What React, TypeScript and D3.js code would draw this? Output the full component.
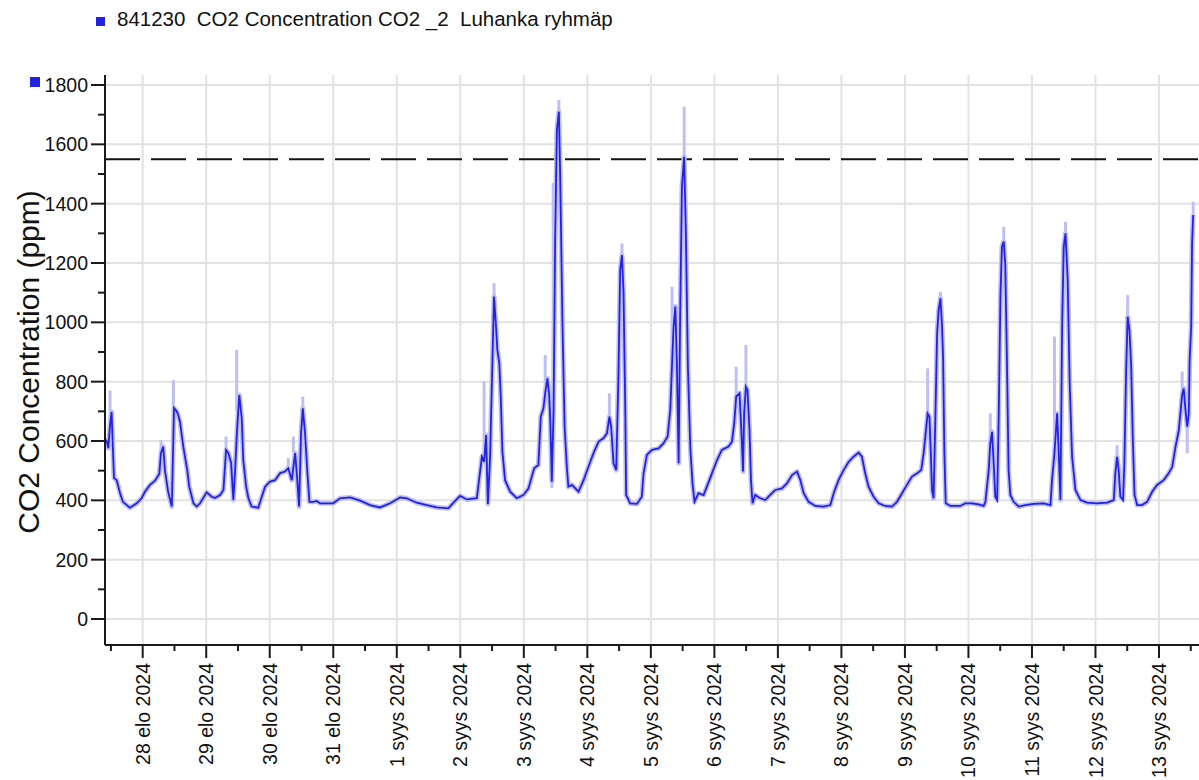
import React, { useEffect, useRef } from 'react'
import * as d3 from 'd3'

const seriesName = '841230  CO2 Concentration CO2 _2  Luhanka ryhmäp'
const yTitle = 'CO2 Concentration (ppm)'
const yTicks = [0, 200, 400, 600, 800, 1000, 1200, 1400, 1600, 1800]
const yMinorTicks = [100, 300, 500, 700, 900, 1100, 1300, 1500, 1700]
const limitLevel = 1550
const monthNames = ['tammi', 'helmi', 'maalis', 'huhti', 'touko', 'kesä', 'heinä', 'elo', 'syys', 'loka', 'marras', 'joulu']

// [time, ppm]
const co2Readings: [string, number][] = [
  ['08-27 09:45', 605], ['08-27 10:25', 600], ['08-27 11:00', 576], ['08-27 11:40', 654], ['08-27 12:15', 698], ['08-27 12:40', 593],
  ['08-27 13:10', 475], ['08-27 14:10', 468], ['08-27 15:25', 425], ['08-27 16:30', 395], ['08-27 19:10', 375], ['08-27 21:45', 390], ['08-27 23:35', 407],
  ['08-28 00:50', 429], ['08-28 02:45', 452], ['08-28 04:40', 466], ['08-28 06:15', 489], ['08-28 06:55', 560], ['08-28 07:45', 581],
  ['08-28 08:25', 500], ['08-28 09:35', 430], ['08-28 11:00', 379], ['08-28 11:50', 711], ['08-28 12:50', 700], ['08-28 13:20', 690],
  ['08-28 14:05', 665], ['08-28 15:20', 581], ['08-28 16:50', 502], ['08-28 17:35', 446], ['08-28 19:10', 390], ['08-28 20:25', 379], ['08-28 21:40', 390],
  ['08-29 00:10', 427], ['08-29 02:05', 412], ['08-29 03:20', 408], ['08-29 05:15', 418], ['08-29 06:30', 435], ['08-29 07:30', 570],
  ['08-29 08:20', 560], ['08-29 09:25', 526], ['08-29 10:15', 401], ['08-29 10:55', 502], ['08-29 11:40', 640], ['08-29 12:30', 755],
  ['08-29 13:25', 677], ['08-29 14:00', 536], ['08-29 15:05', 446], ['08-29 15:55', 408], ['08-29 17:10', 379], ['08-29 19:40', 375],
  ['08-29 21:00', 412], ['08-29 22:15', 446],
  ['08-30 00:05', 463], ['08-30 02:00', 468], ['08-30 03:55', 492], ['08-30 05:45', 497], ['08-30 07:00', 508], ['08-30 08:20', 468],
  ['08-30 09:35', 559], ['08-30 10:15', 488], ['08-30 11:05', 379], ['08-30 11:50', 626], ['08-30 12:30', 710], ['08-30 13:20', 626],
  ['08-30 14:15', 491], ['08-30 15:00', 395], ['08-30 16:30', 395], ['08-30 17:45', 398], ['08-30 19:00', 390], ['08-30 23:55', 390],
  ['08-31 02:35', 407], ['08-31 06:20', 410], ['08-31 10:10', 399], ['08-31 13:55', 384], ['08-31 17:40', 376], ['08-31 21:30', 390],
  ['09-01 01:15', 410], ['09-01 03:45', 407], ['09-01 07:35', 392], ['09-01 11:20', 384], ['09-01 15:10', 376], ['09-01 19:30', 373],
  ['09-01 21:25', 392], ['09-01 23:55', 415],
  ['09-02 02:30', 403], ['09-02 06:15', 407], ['09-02 07:05', 468], ['09-02 08:10', 547], ['09-02 09:00', 530], ['09-02 09:45', 620],
  ['09-02 10:25', 388], ['09-02 11:15', 542], ['09-02 12:10', 879], ['09-02 12:45', 1087], ['09-02 13:25', 997], ['09-02 14:00', 907],
  ['09-02 14:45', 862], ['09-02 15:20', 738], ['09-02 15:55', 564], ['09-02 16:55', 468], ['09-02 18:50', 429], ['09-02 21:20', 407], ['09-02 23:50', 418],
  ['09-03 01:45', 440], ['09-03 03:55', 508], ['09-03 05:30', 519], ['09-03 06:25', 682], ['09-03 07:25', 710], ['09-03 08:05', 761],
  ['09-03 08:55', 811], ['09-03 09:35', 755], ['09-03 10:00', 671], ['09-03 10:35', 463], ['09-03 11:15', 705], ['09-03 11:50', 1278],
  ['09-03 12:30', 1648], ['09-03 13:15', 1710], ['09-03 13:45', 1491], ['09-03 14:35', 1008], ['09-03 15:25', 648], ['09-03 16:15', 513],
  ['09-03 16:50', 446], ['09-03 18:10', 452], ['09-03 20:40', 429], ['09-03 22:35', 468],
  ['09-04 00:25', 513], ['09-04 02:20', 559], ['09-04 04:15', 598], ['09-04 06:05', 609], ['09-04 07:25', 626], ['09-04 08:20', 682],
  ['09-04 09:00', 648], ['09-04 09:55', 525], ['09-04 10:55', 502], ['09-04 11:45', 817], ['09-04 12:25', 1176], ['09-04 13:05', 1227],
  ['09-04 13:40', 1103], ['09-04 14:20', 710], ['09-04 14:40', 418], ['09-04 16:10', 390], ['09-04 18:45', 388], ['09-04 20:35', 412],
  ['09-04 21:15', 491], ['09-04 22:30', 553],
  ['09-05 00:25', 570], ['09-05 02:55', 575], ['09-05 04:45', 592], ['09-05 06:20', 615], ['09-05 07:20', 705], ['09-05 08:00', 856],
  ['09-05 08:35', 985], ['09-05 09:15', 1053], ['09-05 09:50', 862], ['09-05 10:30', 525], ['09-05 11:05', 1031], ['09-05 11:45', 1457],
  ['09-05 12:35', 1558], ['09-05 13:15', 1294], ['09-05 14:00', 850], ['09-05 14:55', 575], ['09-05 15:45', 457], ['09-05 16:30', 395],
  ['09-05 18:00', 424], ['09-05 19:55', 418], ['09-05 21:10', 446], ['09-05 23:05', 491],
  ['09-06 01:00', 536], ['09-06 02:50', 570], ['09-06 05:20', 581], ['09-06 06:40', 598], ['09-06 07:30', 660], ['09-06 08:15', 750],
  ['09-06 09:30', 761], ['09-06 10:10', 643], ['09-06 10:50', 497], ['09-06 11:15', 693], ['09-06 11:55', 783], ['09-06 12:30', 772],
  ['09-06 13:15', 643], ['09-06 13:50', 468], ['09-06 14:25', 390], ['09-06 15:25', 418], ['09-06 17:20', 407], ['09-06 19:15', 401],
  ['09-06 21:05', 418], ['09-06 23:00', 435],
  ['09-07 01:30', 440], ['09-07 03:25', 457], ['09-07 05:20', 485], ['09-07 07:15', 497], ['09-07 08:30', 468], ['09-07 09:45', 424],
  ['09-07 11:35', 395], ['09-07 14:10', 381], ['09-07 17:15', 379], ['09-07 19:50', 384], ['09-07 21:05', 424], ['09-07 22:55', 468],
  ['09-08 00:50', 502], ['09-08 02:45', 530], ['09-08 04:35', 547], ['09-08 06:30', 561], ['09-08 07:45', 547], ['09-08 09:00', 491],
  ['09-08 10:15', 446], ['09-08 12:10', 412], ['09-08 14:05', 390], ['09-08 16:35', 381], ['09-08 19:05', 379], ['09-08 21:00', 395], ['09-08 22:55', 424],
  ['09-09 00:45', 452], ['09-09 02:40', 480], ['09-09 04:35', 491], ['09-09 06:10', 502], ['09-09 07:05', 559], ['09-09 07:50', 626],
  ['09-09 08:35', 693], ['09-09 09:15', 682], ['09-09 09:45', 570], ['09-09 10:15', 435], ['09-09 10:50', 407], ['09-09 11:30', 677],
  ['09-09 12:10', 963], ['09-09 12:45', 1042], ['09-09 13:25', 1081], ['09-09 14:00', 991], ['09-09 14:25', 884], ['09-09 14:55', 559],
  ['09-09 15:25', 390], ['09-09 17:10', 381], ['09-09 20:55', 381], ['09-09 22:50', 390],
  ['09-10 01:20', 390], ['09-10 03:50', 386], ['09-10 05:45', 381], ['09-10 06:25', 395], ['09-10 07:00', 446], ['09-10 07:40', 502],
  ['09-10 08:15', 592], ['09-10 08:55', 631], ['09-10 09:30', 530], ['09-10 10:10', 412], ['09-10 10:50', 401], ['09-10 11:25', 671],
  ['09-10 12:05', 1087], ['09-10 12:40', 1255], ['09-10 13:20', 1272], ['09-10 13:55', 1193], ['09-10 14:35', 850], ['09-10 15:10', 502],
  ['09-10 15:50', 418], ['09-10 17:05', 395], ['09-10 19:00', 379], ['09-10 21:30', 384],
  ['09-11 00:40', 388], ['09-11 04:25', 390], ['09-11 07:00', 384], ['09-11 07:35', 468], ['09-11 08:30', 559], ['09-11 09:30', 693],
  ['09-11 10:05', 570], ['09-11 10:45', 401], ['09-11 11:25', 997], ['09-11 12:00', 1255], ['09-11 12:40', 1300], ['09-11 13:30', 1143],
  ['09-11 14:15', 795], ['09-11 15:10', 547], ['09-11 16:25', 435], ['09-11 18:20', 401], ['09-11 20:50', 392],
  ['09-12 00:35', 390], ['09-12 04:25', 392], ['09-12 06:55', 401], ['09-12 07:30', 491], ['09-12 08:10', 547], ['09-12 08:45', 502],
  ['09-12 09:25', 412], ['09-12 10:25', 401], ['09-12 10:55', 525], ['09-12 11:35', 839], ['09-12 12:10', 1019], ['09-12 12:50', 974],
  ['09-12 13:30', 850], ['09-12 14:05', 615], ['09-12 14:45', 418], ['09-12 15:45', 384], ['09-12 17:35', 384], ['09-12 19:30', 395],
  ['09-12 21:25', 429], ['09-12 23:15', 452],
  ['09-13 01:45', 468], ['09-13 03:40', 491], ['09-13 05:00', 513], ['09-13 06:15', 581], ['09-13 07:30', 637], ['09-13 08:05', 693],
  ['09-13 08:45', 755], ['09-13 09:20', 777], ['09-13 10:00', 705], ['09-13 10:40', 648], ['09-13 11:15', 693], ['09-13 11:35', 873],
  ['09-13 12:10', 985], ['09-13 12:30', 1266], ['09-13 12:55', 1362],
]

// [time, min, max] of the lighter min/max band where it sticks out
const co2Extremes: [string, number, number][] = [
  ['08-27 11:40', 600, 770], ['08-28 06:55', 540, 603], ['08-28 11:35', 700, 805], ['08-29 07:30', 560, 615],
  ['08-29 11:30', 700, 907], ['08-30 07:00', 500, 543], ['08-30 08:55', 560, 615], ['08-30 12:30', 700, 750],
  ['09-02 09:00', 530, 800], ['09-02 12:45', 1080, 1132], ['09-03 08:05', 760, 890], ['09-03 10:35', 441, 470],
  ['09-03 11:05', 700, 1470], ['09-03 13:15', 1700, 1750], ['09-04 08:20', 680, 761], ['09-04 13:05', 1220, 1266],
  ['09-05 08:00', 850, 1120], ['09-05 12:35', 1550, 1727], ['09-06 08:15', 750, 850], ['09-06 11:55', 780, 924],
  ['09-09 08:35', 690, 845], ['09-09 13:25', 1080, 1103], ['09-10 08:15', 590, 693], ['09-10 13:20', 1270, 1322],
  ['09-11 08:30', 560, 952], ['09-11 12:40', 1300, 1339], ['09-12 08:10', 547, 586], ['09-12 12:10', 1019, 1092],
  ['09-13 08:45', 755, 834], ['09-13 10:40', 559, 648], ['09-13 12:55', 1362, 1407],
]

const parseTime = d3.timeParse('%Y-%m-%d %H:%M')
const toDate = (s: string) => parseTime('2024-' + s) as Date
const dayLabel = (d: Date) => `${d.getDate()} ${monthNames[d.getMonth()]} ${d.getFullYear()}`

const font = '"Liberation Sans", Arial, sans-serif'
const blue = '#2222e2'
const lightBlue = '#bfbff3'

function CO2Chart() {
  const chartRef = useRef<SVGSVGElement>(null)

  useEffect(() => {
    const width = 1199
    const height = 780
    const plot = { left: 105, right: 1199, top: 75, bottom: 645 }

    const svg = d3.select(chartRef.current).attr('width', width).attr('height', height)
    svg.selectAll('*').remove()
    svg.append('rect').attr('width', width).attr('height', height).attr('fill', '#fff')

    const x = d3
      .scaleTime()
      .domain([new Date(2024, 7, 28), new Date(2024, 8, 13)])
      .range([142.7, 1159])
    const y = d3.scaleLinear().domain([0, 1800]).range([619, 85])

    const t0 = x.invert(plot.left)
    const t1 = x.invert(plot.right)
    const days = d3.timeDay.range(d3.timeDay.ceil(t0), t1)
    const noons = d3.timeHour.range(t0, t1).filter((d) => d.getHours() === 12)

    // Grid
    svg
      .append('g')
      .selectAll('line')
      .data(yTicks)
      .join('line')
      .attr('x1', plot.left)
      .attr('x2', plot.right)
      .attr('y1', (d) => y(d))
      .attr('y2', (d) => y(d))
      .attr('stroke', '#e2e2e2')
      .attr('stroke-width', 2)
    svg
      .append('g')
      .selectAll('line')
      .data(days)
      .join('line')
      .attr('x1', (d) => x(d))
      .attr('x2', (d) => x(d))
      .attr('y1', plot.top)
      .attr('y2', plot.bottom)
      .attr('stroke', '#e2e2e2')
      .attr('stroke-width', 2)

    // Limit line
    svg
      .append('line')
      .attr('x1', plot.left)
      .attr('x2', plot.right)
      .attr('y1', y(limitLevel))
      .attr('y2', y(limitLevel))
      .attr('stroke', '#111')
      .attr('stroke-width', 2)
      .attr('stroke-dasharray', '35 11')

    svg
      .append('clipPath')
      .attr('id', 'plot-clip')
      .append('rect')
      .attr('x', plot.left)
      .attr('y', plot.top)
      .attr('width', plot.right - plot.left)
      .attr('height', plot.bottom - plot.top)

    const series = svg.append('g').attr('clip-path', 'url(#plot-clip)')
    const data = co2Readings.map(([t, v]) => ({ t: toDate(t), v }))
    const line = d3
      .line<{ t: Date; v: number }>()
      .x((d) => x(d.t))
      .y((d) => y(d.v))

    // min/max band
    series
      .append('path')
      .datum(data)
      .attr('fill', 'none')
      .attr('stroke', lightBlue)
      .attr('stroke-width', 5)
      .attr('stroke-linejoin', 'round')
      .attr('d', line)
    series
      .selectAll('line.extreme')
      .data(co2Extremes)
      .join('line')
      .attr('class', 'extreme')
      .attr('x1', (d) => x(toDate(d[0])))
      .attr('x2', (d) => x(toDate(d[0])))
      .attr('y1', (d) => y(d[1]))
      .attr('y2', (d) => y(d[2]))
      .attr('stroke', lightBlue)
      .attr('stroke-width', 3)

    series
      .append('path')
      .datum(data)
      .attr('fill', 'none')
      .attr('stroke', blue)
      .attr('stroke-width', 1.8)
      .attr('d', line)

    // Axes
    svg
      .append('line')
      .attr('x1', plot.left)
      .attr('x2', plot.left)
      .attr('y1', plot.top)
      .attr('y2', plot.bottom)
      .attr('stroke', '#1a1a1a')
      .attr('stroke-width', 2)
    svg
      .append('line')
      .attr('x1', plot.left)
      .attr('x2', plot.right)
      .attr('y1', plot.bottom)
      .attr('y2', plot.bottom)
      .attr('stroke', '#1a1a1a')
      .attr('stroke-width', 2)

    svg
      .append('g')
      .selectAll('line')
      .data(yTicks)
      .join('line')
      .attr('x1', plot.left - 14)
      .attr('x2', plot.left)
      .attr('y1', (d) => y(d))
      .attr('y2', (d) => y(d))
      .attr('stroke', '#1a1a1a')
      .attr('stroke-width', 2)
    svg
      .append('g')
      .selectAll('line')
      .data(yMinorTicks)
      .join('line')
      .attr('x1', plot.left - 7)
      .attr('x2', plot.left)
      .attr('y1', (d) => y(d))
      .attr('y2', (d) => y(d))
      .attr('stroke', '#1a1a1a')
      .attr('stroke-width', 2)
    svg
      .append('g')
      .selectAll('text')
      .data(yTicks)
      .join('text')
      .attr('x', plot.left - 17)
      .attr('y', (d) => y(d))
      .attr('dy', '0.36em')
      .attr('text-anchor', 'end')
      .attr('font-family', font)
      .attr('font-size', 19.5)
      .attr('fill', '#111')
      .text((d) => d)

    svg
      .append('g')
      .selectAll('line')
      .data(days)
      .join('line')
      .attr('x1', (d) => x(d))
      .attr('x2', (d) => x(d))
      .attr('y1', plot.bottom)
      .attr('y2', plot.bottom + 13)
      .attr('stroke', '#1a1a1a')
      .attr('stroke-width', 2)
    svg
      .append('g')
      .selectAll('line')
      .data(noons)
      .join('line')
      .attr('x1', (d) => x(d))
      .attr('x2', (d) => x(d))
      .attr('y1', plot.bottom)
      .attr('y2', plot.bottom + 6)
      .attr('stroke', '#1a1a1a')
      .attr('stroke-width', 2)
    svg
      .append('g')
      .selectAll('text')
      .data(days)
      .join('text')
      .attr('transform', (d) => `translate(${x(d)}, ${plot.bottom + 18}) rotate(-90)`)
      .attr('dy', '0.36em')
      .attr('text-anchor', 'end')
      .attr('font-family', font)
      .attr('font-size', 19.5)
      .attr('fill', '#111')
      .text(dayLabel)

    svg
      .append('text')
      .attr('transform', `translate(39, 362) rotate(-90)`)
      .attr('text-anchor', 'middle')
      .attr('font-family', font)
      .attr('font-size', 30)
      .attr('fill', '#111')
      .text(yTitle)

    // Legend
    svg.append('rect').attr('x', 30).attr('y', 77).attr('width', 10).attr('height', 10).attr('fill', blue)
    svg.append('rect').attr('x', 96).attr('y', 17).attr('width', 9).attr('height', 9).attr('fill', blue)
    svg
      .append('text')
      .attr('x', 117)
      .attr('y', 26)
      .attr('font-family', font)
      .attr('font-size', 20.5)
      .attr('fill', '#111')
      .style('white-space', 'pre')
      .text(seriesName)
  }, [])

  return <svg ref={chartRef} style={{ position: 'absolute', left: 0, top: 0, display: 'block' }} />
}

export default function App() {
  return <CO2Chart />
}
